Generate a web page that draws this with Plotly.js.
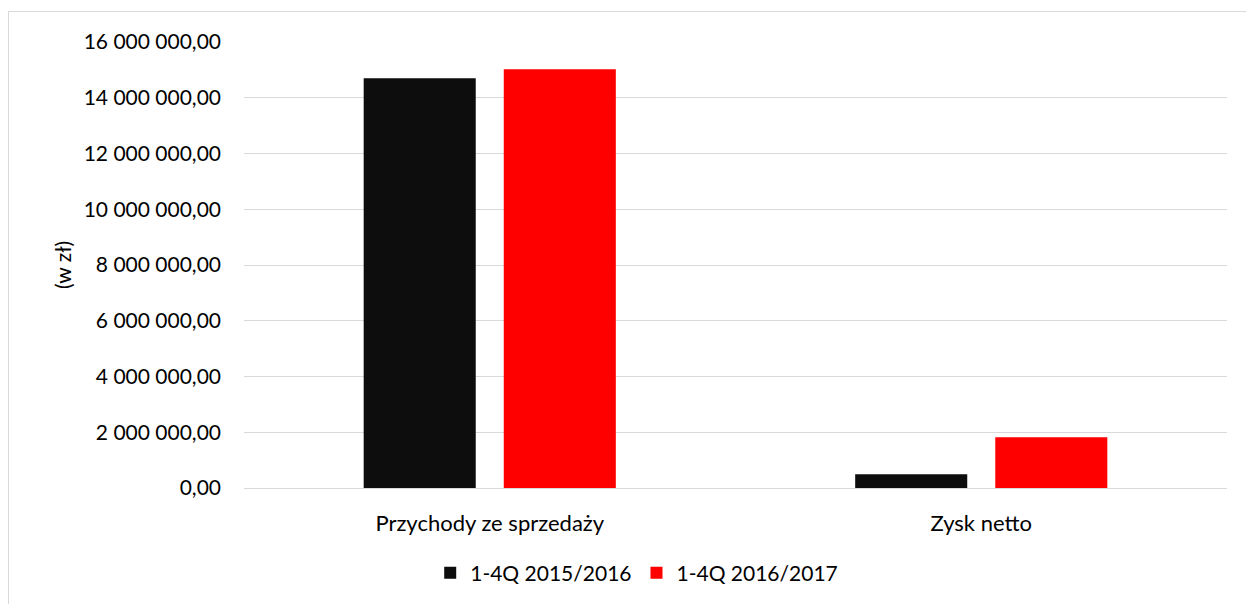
<!DOCTYPE html>
<html><head><meta charset="utf-8">
<script src="https://cdn.plot.ly/plotly-3.0.1.min.js"></script>
<style>
html,body{margin:0;padding:0;background:#fff;overflow:hidden;width:1246px;height:604px;}
#frame{position:absolute;left:8px;top:11px;width:1300px;height:700px;border:1px solid #d9d9d9;box-sizing:border-box;}
#chart{position:absolute;left:0;top:0;width:1246px;height:604px;}
</style></head>
<body>
<div id="frame"></div>
<div id="chart"></div>
<script>
const categories = ["Przychody ze sprzedaży", "Zysk netto"];
const series1Name = "1-4Q 2015/2016";
const series2Name = "1-4Q 2016/2017";
const series1 = [14700000, 490000];
const series2 = [15020000, 1820000];
const tickVals = [0, 2000000, 4000000, 6000000, 8000000, 10000000, 12000000, 14000000, 16000000];
const tickText = ["0,00", "2 000 000,00", "4 000 000,00", "6 000 000,00", "8 000 000,00", "10 000 000,00", "12 000 000,00", "14 000 000,00", "16 000 000,00"];
const yTitle = "(w zł)";

const fam = "Lato, 'Open Sans', sans-serif";
const font = {family: fam, size: 21, color: "#000"};
const xfont = {family: fam, size: 22, color: "#000"};
const data = [
  {type: "bar", name: series1Name, x: categories, y: series1, marker: {color: "#0d0d0d"}},
  {type: "bar", name: series2Name, x: categories, y: series2, marker: {color: "#ff0000"}}
];
const layout = {
  width: 1246, height: 604,
  paper_bgcolor: "rgba(0,0,0,0)", plot_bgcolor: "rgba(0,0,0,0)",
  margin: {l: 244, r: 19, t: 42, b: 116},
  font: font,
  barmode: "group", bargap: 0.43, bargroupgap: 0.2,
  showlegend: true,
  legend: {orientation: "h", xref: "container", yref: "container", x: 0.511, y: 0.051, xanchor: "center", yanchor: "middle", font: font, itemwidth: 30, traceorder: "normal"},
  xaxis: {showgrid: false, showline: false, zeroline: false, ticks: "", ticklabelstandoff: 20, tickfont: xfont},
  yaxis: {range: [0, 16000000], tickvals: tickVals, ticktext: tickText, showgrid: true, gridcolor: "#d9d9d9", gridwidth: 1, zeroline: true, zerolinecolor: "#d9d9d9", zerolinewidth: 1, showline: false, ticks: "", ticklabelstandoff: 22, tickfont: font},
  annotations: [{text: yTitle, xref: "paper", yref: "paper", x: (62 - 244) / 983, y: 0.5, xanchor: "center", yanchor: "middle", textangle: -90, showarrow: false, font: font}]
};
Plotly.newPlot("chart", data, layout, {displayModeBar: false, staticPlot: true});
</script>
</body></html>
